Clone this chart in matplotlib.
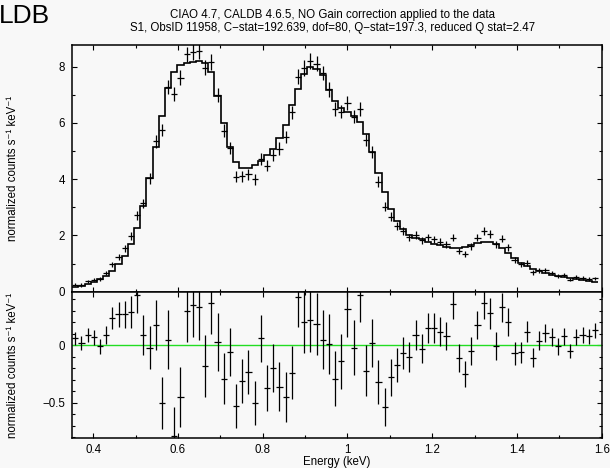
import numpy as np
import matplotlib
matplotlib.use("Agg")
import matplotlib.pyplot as plt
from matplotlib.ticker import MultipleLocator, FuncFormatter

plt.rcParams['font.family'] = ['Liberation Sans', 'DejaVu Sans']

# PI channels 25..109, ACIS channel width 14.6 eV
chan = np.arange(25, 110)
kev_per_chan = 0.0146

# source rate per bin (normalized counts s^-1 keV^-1)
rate = [0.24, 0.24, 0.37, 0.43, 0.45, 0.66, 0.97, 1.25, 1.54, 1.98,
        2.71, 3.14, 4.03, 5.34, 5.75, 7.28, 7.03, 7.61, 8.44, 8.53,
        8.54, 7.96, 8.17, 6.99, 5.72, 5.10, 4.09, 4.10, 4.17, 4.00,
        4.71, 4.48, 4.86, 5.09, 5.49, 6.38, 7.64, 7.95, 8.20, 8.11,
        7.77, 7.19, 6.49, 6.40, 6.70, 6.22, 6.49, 5.39, 4.97, 3.91,
        3.02, 2.67, 2.35, 2.15, 1.93, 2.01, 1.83, 1.93, 1.86, 1.78,
        1.68, 1.92, 1.45, 1.35, 1.62, 1.92, 2.15, 2.05, 1.69, 1.89,
        1.58, 1.13, 0.97, 1.02, 0.69, 0.76, 0.76, 0.67, 0.55, 0.60,
        0.43, 0.51, 0.49, 0.45, 0.47]

rate_err = [0.055, 0.058, 0.060, 0.067, 0.065, 0.077, 0.096, 0.107, 0.115, 0.136,
            0.160, 0.170, 0.190, 0.218, 0.228, 0.258, 0.256, 0.263, 0.270, 0.280,
            0.280, 0.266, 0.275, 0.250, 0.225, 0.210, 0.190, 0.190, 0.190, 0.190,
            0.206, 0.200, 0.210, 0.215, 0.220, 0.230, 0.260, 0.270, 0.275, 0.270,
            0.260, 0.260, 0.240, 0.238, 0.245, 0.240, 0.240, 0.220, 0.210, 0.190,
            0.165, 0.157, 0.145, 0.140, 0.130, 0.134, 0.128, 0.132, 0.130, 0.126,
            0.122, 0.130, 0.120, 0.112, 0.120, 0.123, 0.140, 0.135, 0.122, 0.130,
            0.122, 0.100, 0.093, 0.095, 0.083, 0.083, 0.080, 0.077, 0.073, 0.075,
            0.062, 0.068, 0.066, 0.066, 0.065]

model = [0.18, 0.22, 0.28, 0.36, 0.46, 0.57, 0.73, 0.98, 1.27, 1.69,
         2.27, 3.05, 4.05, 5.16, 6.25, 7.23, 7.82, 8.06, 8.14, 8.18,
         8.21, 8.14, 7.80, 6.96, 6.01, 5.16, 4.62, 4.41, 4.40, 4.50,
         4.65, 4.85, 5.06, 5.45, 5.94, 6.62, 7.22, 7.75, 7.98, 7.92,
         7.72, 7.18, 6.78, 6.54, 6.38, 6.24, 6.05, 5.61, 4.95, 4.23,
         3.56, 2.95, 2.52, 2.22, 2.03, 1.92, 1.86, 1.78, 1.71, 1.66,
         1.60, 1.56, 1.56, 1.60, 1.67, 1.74, 1.78, 1.77, 1.70, 1.56,
         1.38, 1.20, 1.03, 0.90, 0.80, 0.72, 0.65, 0.60, 0.56, 0.52,
         0.48, 0.44, 0.40, 0.37, 0.34]

title1 = "CIAO 4.7, CALDB 4.6.5, NO Gain correction applied to the data"
title2 = "S1, ObsID 11958, C\u2212stat=192.639, dof=80, Q\u2212stat=197.3, reduced Q stat=2.47"
ylab = "normalized counts s\u207b\u00b9 keV\u207b\u00b9"

e_lo = (chan - 1) * kev_per_chan
e_hi = chan * kev_per_chan
e_mid = 0.5 * (e_lo + e_hi)
half = 0.5 * (e_hi - e_lo)
edges = np.append(e_lo, e_hi[-1])
rate = np.array(rate)
model = np.array(model)
resid = rate - model

bg = '#f8f8f8'
fig = plt.figure(figsize=(6.1, 4.68), dpi=100, facecolor=bg)
W, H = 610.0, 468.0
x0, x1 = 72 / W, 601.7 / W
ax1 = fig.add_axes([x0, 1 - 291.7 / H, x1 - x0, (291.7 - 45) / H], facecolor=bg)
ax2 = fig.add_axes([x0, 1 - 438 / H, x1 - x0, (438 - 291.7) / H], facecolor=bg)

ax1.stairs(model, edges, color='k', lw=1.2, baseline=None)
ax1.errorbar(e_mid, rate, xerr=half, yerr=rate_err, fmt='none', ecolor='k', elinewidth=0.9)
ax2.axhline(0, color='#22dd22', lw=1.0)
ax2.errorbar(e_mid, resid, xerr=half, yerr=rate_err, fmt='none', ecolor='k', elinewidth=0.9)

gfmt = FuncFormatter(lambda v, p: ('%g' % round(v, 6)).replace('-', '\u2212'))
for ax in (ax1, ax2):
    ax.set_xlim(0.35, 1.6)
    ax.xaxis.set_major_locator(MultipleLocator(0.2))
    ax.xaxis.set_minor_locator(MultipleLocator(0.1))
    ax.xaxis.set_major_formatter(gfmt)
    ax.yaxis.set_major_formatter(gfmt)
    ax.tick_params(which='both', direction='in', top=True, right=True, labelsize=8.3, pad=5)
    ax.tick_params(which='major', length=3.6, width=0.8)
    ax.tick_params(which='minor', length=2.0, width=0.8)
    for s in ax.spines.values():
        s.set_linewidth(1.1)

ax1.set_ylim(0, 8.77)
ax1.yaxis.set_major_locator(MultipleLocator(2))
ax1.yaxis.set_minor_locator(MultipleLocator(1))
ax1.tick_params(labelbottom=False)

ax2.set_ylim(-0.807, 0.467)
ax2.yaxis.set_major_locator(MultipleLocator(0.5))
ax2.yaxis.set_minor_locator(MultipleLocator(0.1))
ax2.tick_params(axis='x', pad=4)
ax2.set_xlabel("Energy (keV)", fontsize=8.3, labelpad=0)

fig.text(13 / W, 1 - 168 / H, ylab, rotation=90, ha='center', va='center', fontsize=8.3)
fig.text(13 / W, 1 - 365 / H, ylab, rotation=90, ha='center', va='center', fontsize=8.3)

fig.text(333 / W, 1 - 15 / H, title1, ha='center', va='center', fontsize=8.3)
fig.text(333 / W, 1 - 27.5 / H, title2, ha='center', va='center', fontsize=8.3)
fig.text(-1.5 / W, 1 - 23 / H, "LDB", ha='left', va='baseline', fontsize=19)

fig.savefig("out.png", dpi=100, facecolor=bg)
